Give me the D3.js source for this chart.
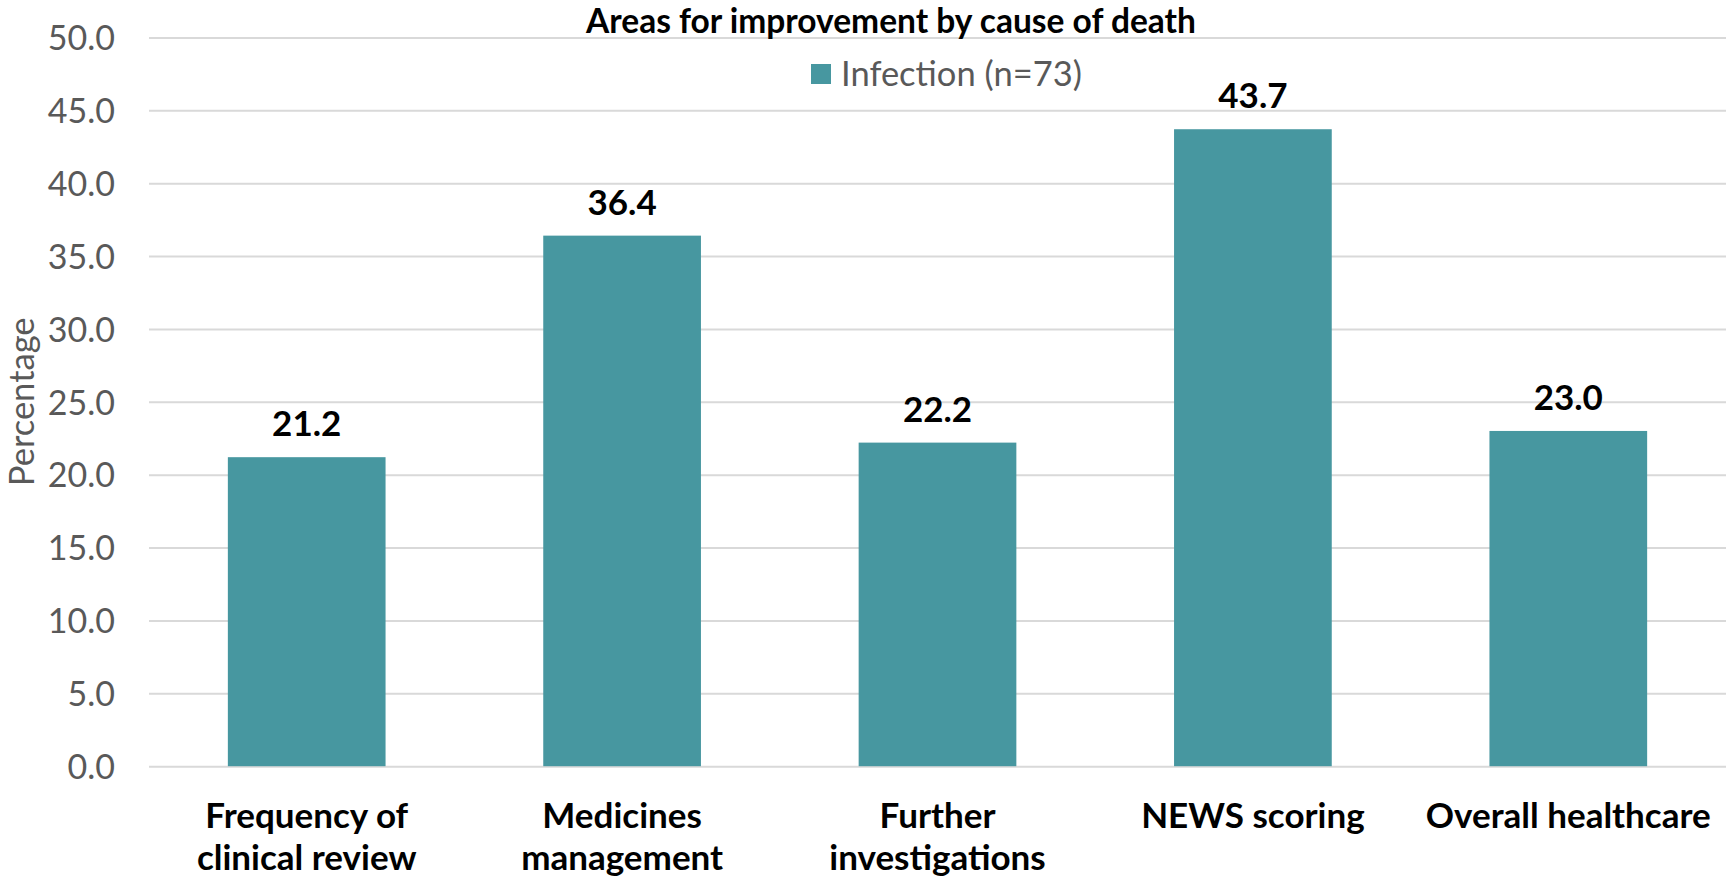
<!DOCTYPE html>
<html>
<head>
<meta charset="utf-8">
<script src="https://cdn.jsdelivr.net/npm/d3@7"></script>
<style>
  html, body { margin: 0; padding: 0; background: #ffffff; }
  svg { display: block; font-family: Lato, "Open Sans", sans-serif; }
</style>
</head>
<body>
<svg id="chart" width="1726" height="883"></svg>
<script>
// Chart data
const categories = [
  ["Frequency of", "clinical review"],
  ["Medicines", "management"],
  ["Further", "investigations"],
  ["NEWS scoring"],
  ["Overall healthcare"]
];
const categoryKeys = categories.map(c => c.join(" "));
const infectionValues = [21.2, 36.4, 22.2, 43.7, 23.0];
const yTicks = [0, 5, 10, 15, 20, 25, 30, 35, 40, 45, 50];
const seriesName = "Infection (n=73)";
const chartTitle = "Areas for improvement by cause of death";
const yAxisTitle = "Percentage";

const W = 1726, H = 883;
const margin = { top: 37.4, right: 0, bottom: H - 766.2, left: 149 };
const barColor = "#4797A0";
const gridColor = "#D9D9D9";
const axisTextColor = "#595959";

const svg = d3.select("#chart");

const x = d3.scaleBand()
  .domain(categoryKeys)
  .range([margin.left, W - margin.right])
  .paddingInner(0.5)
  .paddingOuter(0.25);

const y = d3.scaleLinear()
  .domain([0, 50])
  .range([H - margin.bottom, margin.top]);

// Horizontal gridlines
const grid = svg.append("g")
  .attr("transform", `translate(${margin.left},0)`)
  .call(d3.axisLeft(y).tickValues(yTicks).tickSize(-(W - margin.left - margin.right)).tickFormat(""));
grid.select(".domain").remove();
grid.selectAll("line").attr("stroke", gridColor).attr("stroke-width", 2);

// Y axis labels
const yAxis = svg.append("g")
  .attr("transform", `translate(${margin.left},0)`)
  .call(d3.axisLeft(y).tickValues(yTicks).tickSize(0).tickPadding(34).tickFormat(d3.format(".1f")));
yAxis.select(".domain").remove();
yAxis.selectAll("text")
  .attr("fill", axisTextColor)
  .style("font-family", "Lato, sans-serif")
  .style("font-size", "34px")
  .attr("dy", "0.36em");

// Bars
svg.append("g").selectAll("rect")
  .data(infectionValues)
  .join("rect")
  .attr("x", (d, i) => x(categoryKeys[i]))
  .attr("y", d => y(d))
  .attr("width", x.bandwidth())
  .attr("height", d => y(0) - y(d))
  .attr("fill", barColor);

// Value labels
svg.append("g").selectAll("text")
  .data(infectionValues)
  .join("text")
  .attr("x", (d, i) => x(categoryKeys[i]) + x.bandwidth() / 2)
  .attr("y", d => y(d) - 21)
  .attr("text-anchor", "middle")
  .attr("fill", "#000000")
  .style("font-weight", "700")
  .style("font-size", "35px")
  .text(d => d3.format(".1f")(d));

// X axis category labels
const xAxis = svg.append("g")
  .attr("transform", `translate(0,${y(0)})`)
  .call(d3.axisBottom(x).tickSize(0).tickFormat(""));
xAxis.select(".domain").remove();
xAxis.selectAll(".tick").each(function(d, i) {
  const t = d3.select(this).append("text")
    .attr("text-anchor", "middle")
    .attr("fill", "#000000")
    .style("font-family", "Lato, sans-serif")
    .style("font-weight", "700")
    .style("font-size", "35px");
  categories[i].forEach((line, j) => {
    t.append("tspan")
      .attr("x", 0)
      .attr("y", 62 + j * 42)
      .text(line);
  });
});

// Title
svg.append("text")
  .attr("x", 891)
  .attr("y", 33)
  .attr("text-anchor", "middle")
  .attr("fill", "#000000")
  .style("font-weight", "700")
  .style("font-size", "33.5px")
  .text(chartTitle);

// Legend
const legend = svg.append("g").attr("transform", "translate(811,64)");
legend.append("rect")
  .attr("width", 20)
  .attr("height", 20)
  .attr("fill", barColor);
legend.append("text")
  .attr("x", 30)
  .attr("y", 10)
  .attr("dy", "0.36em")
  .attr("fill", axisTextColor)
  .style("font-size", "34.5px")
  .text(seriesName);

// Y axis title
svg.append("text")
  .attr("transform", `translate(34,${(y(0) + y(50)) / 2}) rotate(-90)`)
  .attr("text-anchor", "middle")
  .attr("fill", axisTextColor)
  .style("font-size", "34.5px")
  .text(yAxisTitle);
</script>
</body>
</html>
